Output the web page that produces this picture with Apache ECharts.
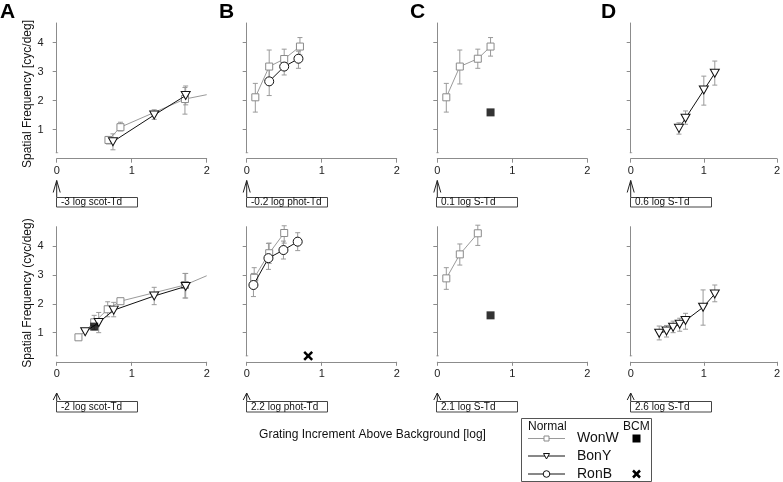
<!DOCTYPE html>
<html>
<head>
<meta charset="utf-8">
<script src="https://cdn.jsdelivr.net/npm/echarts@6/dist/echarts.min.js"></script>
<style>html,body{margin:0;padding:0;background:#fff}#c{width:783px;height:482px}</style>
</head>
<body>
<div id="c"></div>
<script>
// ---------- data ----------
const xTickValues = [0, 1, 2];
const yTickValues = [1, 2, 3, 4];
const panelLetters = ['A', 'B', 'C', 'D'];
const bgLabelsTop = ['-3 log scot-Td', '-0.2 log phot-Td', '0.1 log S-Td', '0.6 log S-Td'];
const bgLabelsBottom = ['-2 log scot-Td', '2.2 log phot-Td', '2.1 log S-Td', '2.6 log S-Td'];
const yTitleTop = 'Spatial Frequency [cyc/deg]';
const yTitleBottom = 'Spatial Frequency (cyc/deg)';
const xTitle = 'Grating Increment Above Background [log]';
const legendNames = ['WonW', 'BonY', 'RonB'];

// [x, y, errLow, errHigh]
const A1_WonW = [[0.69, 0.64, 0.50, 0.76], [0.85, 1.08, 0.95, 1.25], [1.71, 2.05, 1.53, 2.45]];
const A1_WonW_ext = [[1.71, 2.05], [2.0, 2.2]];
const A1_BonY = [[0.75, 0.58, 0.30, 0.85], [1.30, 1.50, 1.35, 1.68], [1.72, 2.17, 1.85, 2.50]];

const B1_WonW = [[0.115, 2.11, 1.60, 2.59], [0.30, 3.17, 2.60, 3.74], [0.50, 3.43, 3.10, 3.77], [0.71, 3.86, 3.57, 4.17]];
const B1_RonB = [[0.30, 2.66, 2.17, 3.15], [0.50, 3.17, 2.88, 3.45], [0.69, 3.44, 3.11, 3.70]];

const C1_WonW = [[0.12, 2.11, 1.60, 2.59], [0.30, 3.17, 2.57, 3.74], [0.54, 3.44, 3.11, 3.77], [0.71, 3.86, 3.53, 4.17]];
const C1_BCM_sq = [[0.71, 1.59]];

const D1_BonY = [[0.66, 1.04, 0.84, 1.23], [0.75, 1.39, 1.18, 1.64], [1.00, 2.36, 1.84, 2.84], [1.15, 2.94, 2.53, 3.36]];

const A2_WonW = [[0.29, 0.84, null, null], [0.50, 1.36, 1.10, 1.60], [0.68, 1.81, 1.55, 2.07], [0.85, 2.09, null, null], [1.71, 2.65, 2.20, 3.05]];
const A2_WonW_ext = [[1.71, 2.65], [2.0, 2.97]];
const A2_BonY = [[0.38, 1.03, null, null], [0.56, 1.35, 1.00, 1.70], [0.76, 1.78, 1.55, 2.05], [1.30, 2.27, 1.97, 2.57], [1.72, 2.60, 2.20, 3.05]];
const A2_BCM_sq = [[0.50, 1.21]];

const B2_WonW = [[0.10, 2.90, 2.60, 3.25], [0.30, 3.75, 3.40, 4.10], [0.50, 4.45, 4.10, 4.70]];
const B2_RonB = [[0.09, 2.65, 2.25, 3.05], [0.29, 3.58, 3.19, 4.09], [0.49, 3.86, 3.55, 4.17], [0.68, 4.15, 3.84, 4.46]];
const B2_BCM_x = [[0.82, 0.20]];

const C2_WonW = [[0.12, 2.88, 2.50, 3.25], [0.30, 3.71, 3.34, 4.07], [0.54, 4.44, 4.02, 4.72]];
const C2_BCM_sq = [[0.71, 1.60]];

const D2_BonY = [[0.39, 0.98, 0.75, 1.23], [0.49, 1.06, 0.85, 1.25], [0.58, 1.19, 1.00, 1.40], [0.67, 1.29, 1.05, 1.50], [0.75, 1.42, 1.12, 1.67], [0.99, 1.88, 1.26, 2.48], [1.15, 2.34, 2.07, 2.65]];

const panels = [
  {wonw: A1_WonW, ext: A1_WonW_ext, bony: A1_BonY},
  {wonw: B1_WonW, ronb: B1_RonB},
  {wonw: C1_WonW, bcmSq: C1_BCM_sq},
  {bony: D1_BonY},
  {wonw: A2_WonW, ext: A2_WonW_ext, bony: A2_BonY, bcmSq: A2_BCM_sq},
  {wonw: B2_WonW, ronb: B2_RonB, bcmX: B2_BCM_x},
  {wonw: C2_WonW, bcmSq: C2_BCM_sq},
  {bony: D2_BonY}
];

// ---------- layout ----------
const FONT = 'Liberation Sans, Arial, sans-serif';
const colX0 = [56.7, 246.7, 437.3, 630.7];
const rowTop = [23, 226.7];
const rowBottom = [152.7, 355.8];
const rowMax = [4.672, 4.668];
const plotW = 150;
const grey = '#8c8c8c';
const errGrey = '#9a9a9a';

const grids = [], xAxes = [], yAxes = [], series = [];

for (let k = 0; k < 8; k++) {
  const r = Math.floor(k / 4), i = k % 4;
  grids.push({left: colX0[i], top: rowTop[r], width: plotW, height: rowBottom[r] - rowTop[r], containLabel: false});
  xAxes.push({
    gridIndex: k, type: 'value', min: 0, max: 2, interval: 1, offset: 6, position: 'bottom',
    axisLine: {show: true, lineStyle: {color: grey, width: 1}},
    axisTick: {show: true, length: 4, lineStyle: {color: grey}},
    axisLabel: {fontSize: 11, color: '#222', margin: 7, fontFamily: FONT, showMinLabel: true, showMaxLabel: true},
    splitLine: {show: false}
  });
  yAxes.push({
    gridIndex: k, type: 'value', min: 0.2, max: rowMax[r], offset: 6,
    axisLine: {show: true, lineStyle: {color: grey, width: 1}},
    axisTick: {show: true, length: 4, lineStyle: {color: grey}, customValues: yTickValues},
    axisLabel: {show: i === 0, customValues: yTickValues, fontSize: 11, color: '#222', margin: 7, fontFamily: FONT},
    splitLine: {show: false}
  });

  const p = panels[k];
  // error bars
  const errs = [];
  ['wonw', 'bony', 'ronb'].forEach(n => { if (p[n]) p[n].forEach(d => { if (d[2] != null) errs.push([d[0], d[1], d[2], d[3]]); }); });
  series.push({
    type: 'custom', xAxisIndex: k, yAxisIndex: k, z: 1, clip: false, silent: true,
    data: errs,
    encode: {x: 0, y: [2, 3]},
    renderItem: function (params, api) {
      const x = api.value(0);
      const a = api.coord([x, api.value(2)]);
      const b = api.coord([x, api.value(3)]);
      const cw = 2.5;
      const st = {stroke: errGrey, lineWidth: 1};
      return {type: 'group', children: [
        {type: 'line', shape: {x1: a[0], y1: a[1], x2: b[0], y2: b[1]}, style: st},
        {type: 'line', shape: {x1: a[0] - cw, y1: a[1], x2: a[0] + cw, y2: a[1]}, style: st},
        {type: 'line', shape: {x1: b[0] - cw, y1: b[1], x2: b[0] + cw, y2: b[1]}, style: st}
      ]};
    }
  });
  if (p.ext) {
    series.push({type: 'line', xAxisIndex: k, yAxisIndex: k, z: 1, symbol: 'none', silent: true,
      data: p.ext, lineStyle: {color: errGrey, width: 1}});
  }
  if (p.wonw) {
    series.push({type: 'line', xAxisIndex: k, yAxisIndex: k, z: 2, silent: true,
      data: p.wonw.map(d => [d[0], d[1]]),
      symbol: 'rect', symbolSize: 7, showAllSymbol: true,
      lineStyle: {color: errGrey, width: 1},
      itemStyle: {color: '#fff', borderColor: '#8a8a8a', borderWidth: 1}});
  }
  if (p.bony) {
    series.push({type: 'line', xAxisIndex: k, yAxisIndex: k, z: 3, silent: true,
      data: p.bony.map(d => [d[0], d[1]]),
      symbol: 'triangle', symbolRotate: 180, symbolSize: [9, 8], showAllSymbol: true,
      lineStyle: {color: '#111', width: 1},
      itemStyle: {color: '#fff', borderColor: '#111', borderWidth: 1}});
  }
  if (p.ronb) {
    series.push({type: 'line', xAxisIndex: k, yAxisIndex: k, z: 3, silent: true,
      data: p.ronb.map(d => [d[0], d[1]]),
      symbol: 'circle', symbolSize: 9, showAllSymbol: true,
      lineStyle: {color: '#111', width: 1},
      itemStyle: {color: '#fff', borderColor: '#111', borderWidth: 1}});
  }
  if (p.bcmSq) {
    series.push({type: 'scatter', xAxisIndex: k, yAxisIndex: k, z: 4, silent: true,
      data: p.bcmSq, symbol: 'rect', symbolSize: 8, itemStyle: {color: '#000'}});
  }
  if (p.bcmX) {
    series.push({type: 'custom', xAxisIndex: k, yAxisIndex: k, z: 4, clip: false, silent: true,
      data: p.bcmX,
      renderItem: function (params, api) {
        const c = api.coord([api.value(0), api.value(1)]);
        const s = 4;
        const st = {stroke: '#000', lineWidth: 2.5};
        return {type: 'group', children: [
          {type: 'line', shape: {x1: c[0] - s, y1: c[1] - s, x2: c[0] + s, y2: c[1] + s}, style: st},
          {type: 'line', shape: {x1: c[0] - s, y1: c[1] + s, x2: c[0] + s, y2: c[1] - s}, style: st}
        ]};
      }
    });
  }
}

// ---------- graphics: letters, labels, boxes, legend ----------
const graphic = [];
const letterX = [0, 219, 410, 601];
panelLetters.forEach((L, i) => {
  graphic.push({type: 'text', left: letterX[i], top: 2, style: {text: L, font: 'bold 21px ' + FONT, fill: '#000'}});
});
graphic.push({type: 'text', x: 28, y: 94, rotation: Math.PI / 2,
  style: {text: yTitleTop, font: '12px ' + FONT, fill: '#111', align: 'center', verticalAlign: 'middle'}});
graphic.push({type: 'text', x: 28, y: 293, rotation: Math.PI / 2,
  style: {text: yTitleBottom, font: '12px ' + FONT, fill: '#111', align: 'center', verticalAlign: 'middle'}});
graphic.push({type: 'text', x: 372.5, y: 435,
  style: {text: xTitle, font: '12px ' + FONT, fill: '#111', align: 'center', verticalAlign: 'middle'}});

const boxTop = [197, 401], boxH = [9.5, 10.5], arrowTip = [180.5, 393], headLen = [12, 7];
for (let r = 0; r < 2; r++) {
  for (let i = 0; i < 4; i++) {
    const x0 = colX0[i];
    const lab = r === 0 ? bgLabelsTop[i] : bgLabelsBottom[i];
    graphic.push({type: 'rect', shape: {x: Math.round(x0) - 0.5, y: boxTop[r] + 0.5, width: 81, height: boxH[r]},
      style: {fill: '#fff', stroke: '#444', lineWidth: 1}});
    graphic.push({type: 'text', x: Math.round(x0) + 4, y: boxTop[r] + 0.5 + boxH[r] / 2,
      style: {text: lab, font: '10px ' + FONT, fill: '#111', verticalAlign: 'middle'}});
    const tip = arrowTip[r], base = boxTop[r];
    graphic.push({type: 'polyline', shape: {points: [[x0, tip], [x0, base]]}, style: {stroke: '#222', lineWidth: 1, fill: null}});
    graphic.push({type: 'polyline', shape: {points: [[x0 - 3.5, tip + headLen[r]], [x0, tip], [x0 + 3.5, tip + headLen[r]]]},
      style: {stroke: '#222', lineWidth: 1, fill: null}});
    // tiny mark at base of y axis
    graphic.push({type: 'line', shape: {x1: x0 - 1, y1: rowBottom[r], x2: x0 + 1.5, y2: rowBottom[r]},
      style: {stroke: '#aaa', lineWidth: 1}});
  }
}

// legend
graphic.push({type: 'rect', shape: {x: 521.5, y: 418.5, width: 130, height: 63}, style: {fill: '#fff', stroke: '#555', lineWidth: 1}});
graphic.push({type: 'text', x: 528, y: 426.5, style: {text: 'Normal', font: '12px ' + FONT, fill: '#111', verticalAlign: 'middle'}});
graphic.push({type: 'text', x: 623, y: 426.5, style: {text: 'BCM', font: '12px ' + FONT, fill: '#111', verticalAlign: 'middle'}});
const legRowY = [438.5, 456, 474];
const legLineCol = [errGrey, '#111', '#111'];
legendNames.forEach((n, j) => {
  const y = legRowY[j];
  graphic.push({type: 'line', shape: {x1: 528, y1: y, x2: 565, y2: y}, style: {stroke: legLineCol[j], lineWidth: 1}});
  if (j === 0) graphic.push({type: 'rect', shape: {x: 544, y: y - 2.5, width: 5, height: 5}, style: {fill: '#fff', stroke: '#8a8a8a', lineWidth: 1}});
  if (j === 1) graphic.push({type: 'polygon', shape: {points: [[543.5, y - 2.5], [549.5, y - 2.5], [546.5, y + 3]]}, style: {fill: '#fff', stroke: '#111', lineWidth: 1}});
  if (j === 2) graphic.push({type: 'circle', shape: {cx: 546.5, cy: y, r: 3.3}, style: {fill: '#fff', stroke: '#111', lineWidth: 1}});
  graphic.push({type: 'text', x: 577, y: y, style: {text: n, font: '14px ' + FONT, fill: '#111', verticalAlign: 'middle'}});
});
graphic.push({type: 'rect', shape: {x: 632.5, y: 434.5, width: 8, height: 8}, style: {fill: '#000'}});
graphic.push({type: 'line', shape: {x1: 633, y1: 470.5, x2: 640, y2: 477.5}, style: {stroke: '#000', lineWidth: 2.5}});
graphic.push({type: 'line', shape: {x1: 633, y1: 477.5, x2: 640, y2: 470.5}, style: {stroke: '#000', lineWidth: 2.5}});

const chart = echarts.init(document.getElementById('c'), null, {renderer: 'canvas', width: 783, height: 482});
chart.setOption({
  backgroundColor: '#fff',
  animation: false,
  grid: grids,
  xAxis: xAxes,
  yAxis: yAxes,
  series: series,
  graphic: graphic
});
</script>
</body>
</html>
